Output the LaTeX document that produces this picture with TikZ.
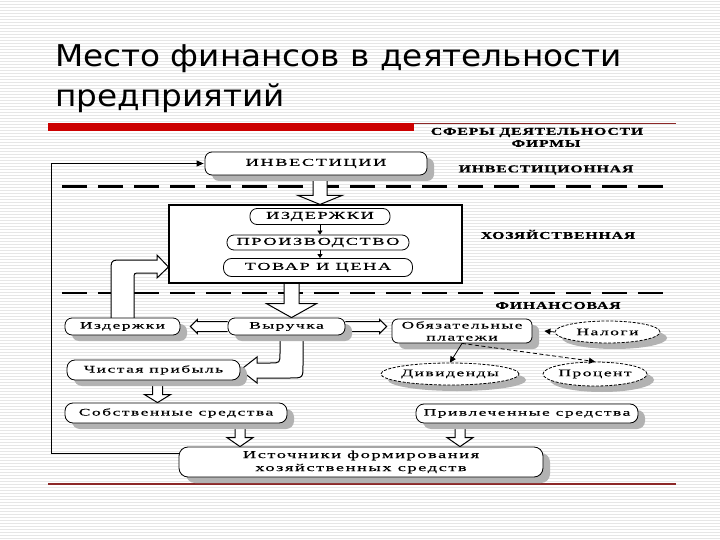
\documentclass[tikz,border=0pt]{standalone}
\usepackage{fontspec}
\setmainfont{Liberation Serif}
\newfontfamily\titlefont[FakeStretch=1.09]{DejaVu Sans}
\newfontfamily\bxfont[FakeStretch=1.75,LetterSpace=15,FakeBold=0.3]{Liberation Serif}
\newfontfamily\hdfont[FakeStretch=1.5,LetterSpace=8,FakeBold=0.8]{Liberation Serif}
\usetikzlibrary{shadows,calc,arrows.meta,shapes.geometric}
\pgfdeclarelayer{stripes}
\pgfdeclarelayer{arrowlayer}
\pgfsetlayers{stripes,arrowlayer,main}
\definecolor{barred}{RGB}{204,0,0}
\definecolor{linered}{RGB}{140,40,40}
\definecolor{shadowgray}{RGB}{178,178,178}
\definecolor{stripegray}{RGB}{230,230,230}
\newcommand\fatV[5]{\path[fatarrow] let \p1=#1, \p2=#2 in
  (\x1-#3,\y1) -- (\x1-#3,\y2+#5) -- (\x1-#4,\y2+#5) -- (\x1,\y2) --
  (\x1+#4,\y2+#5) -- (\x1+#3,\y2+#5) -- (\x1+#3,\y1);}
\newcommand\fatH[5]{\path[fatarrow] let \p1=#1, \p2=#2, \n1={sign(\x1-\x2)} in
  (\x1,\y1+#3) -- ({\x2+(\n1)*(#5)},\y1+#3) -- ({\x2+(\n1)*(#5)},\y1+#4) -- (\x2,\y1) --
  ({\x2+(\n1)*(#5)},\y1-#4) -- ({\x2+(\n1)*(#5)},\y1-#3) -- (\x1,\y1-#3);}
\begin{document}
\begin{tikzpicture}[x=1pt,y=-1pt,
  fatarrow/.style={fill=white, draw=black, line width=1pt, line join=miter},
  shad/.style={drop shadow={shadow xshift=7pt, shadow yshift=-6pt, fill=shadowgray, opacity=1}},
  rbox/.style={draw, line width=0.8pt, fill=white, rounded corners=7pt, inner sep=0pt, align=center,
    font=\bxfont\fontsize{10}{12}\selectfont},
  capbox/.style={rbox, font=\bxfont\fontsize{10.5}{12}\selectfont},
  ebox/.style={ellipse, draw, line width=0.8pt, dash pattern=on 3pt off 1.5pt, fill=white, inner sep=0pt,
    font=\bxfont\fontsize{10}{12}\selectfont, shad},
  hd/.style={font=\hdfont\bfseries\fontsize{10.5}{11}\selectfont, inner sep=0pt},
  sep/.style={line width=3pt, dash pattern=on 25pt off 11pt},
  thinarrow/.style={line width=0.8pt, -{Triangle[width=6pt,length=6pt]}}
]
\useasboundingbox (0,0) rectangle (720,540);
\begin{pgfonlayer}{stripes}
  \fill[white] (0,0) rectangle (720,540);
  \foreach \i in {0,...,179} \draw[stripegray, line width=1pt] (0,{3*\i+1.5}) -- (720,{3*\i+1.5});
\end{pgfonlayer}

% title
\node[anchor=base west, inner sep=0pt, font=\titlefont\fontsize{30}{36}\selectfont] (t1) at (55,67) {Место финансов в деятельности};
\node[anchor=base west, inner sep=0pt, font=\titlefont\fontsize{30}{36}\selectfont] (t2) at (55,107) {предприятий};
\fill[barred] (48,123) rectangle (414,131);
\draw[linered, line width=1pt] (414,123.5) -- (676,123.5);
\draw[linered, line width=1.2pt] (48,484) -- (676,484);

% headings
\node[hd] (h1) at (537,132.5) {СФЕРЫ ДЕЯТЕЛЬНОСТИ};
\node[hd] (h2) at (546,143.5) {ФИРМЫ};
\node[hd] (h3) at (546,170) {ИНВЕСТИЦИОННАЯ};
\node[hd] (h4) at (558,234.5) {ХОЗЯЙСТВЕННАЯ};
\node[hd] (h5) at (558,305.5) {ФИНАНСОВАЯ};

% nodes
\node[capbox, shad, minimum width=222pt, minimum height=23pt] (inv) at (316,163.5) {ИНВЕСТИЦИИ};
\node[draw, line width=1.1pt, fill=white, minimum width=293pt, minimum height=78pt] (big) at (315.5,244) {};
\node[capbox, minimum width=140pt, minimum height=16pt] (izd) at (320,216.5) {ИЗДЕРЖКИ};
\node[capbox, minimum width=182pt, minimum height=15pt] (proizv) at (318,242.5) {ПРОИЗВОДСТВО};
\node[capbox, rounded corners=8pt, minimum width=189pt, minimum height=18pt] (tovar) at (318,267.5) {ТОВАР И ЦЕНА};

\node[rbox, shad, minimum width=115pt, minimum height=17pt] (izd2) at (122.5,326.5) {Издержки};
\node[rbox, shad, minimum width=117pt, minimum height=17pt] (vyr) at (286.5,326.5) {Выручка};
\node[rbox, shad, rounded corners=6pt, minimum width=140pt, minimum height=24pt] (obyaz) at (462,331) {Обязательные\\платежи};
\node[ebox, minimum width=105pt, minimum height=22pt] (nalogi) at (607.5,332) {Налоги};
\node[rbox, shad, rounded corners=8pt, minimum width=173pt, minimum height=20pt] (chist) at (153.5,370) {Чистая прибыль};
\node[ebox, minimum width=116pt, minimum height=22pt] (divid) at (450,374) {Дивиденды};
\node[ebox, minimum width=104pt, minimum height=24pt] (proc) at (595,374) {Процент};
\node[rbox, shad, rounded corners=8pt, minimum width=222pt, minimum height=20pt] (sobstv) at (176,413) {Собственные средства};
\node[rbox, shad, rounded corners=8pt, minimum width=222pt, minimum height=19pt] (privl) at (527,413.5) {Привлеченные средства};
\node[rbox, shad, rounded corners=9pt, minimum width=364pt, minimum height=30pt,
  font=\bxfont\fontsize{10.5}{13}\selectfont] (ist) at (361,462) {Источники формирования\\хозяйственных средств};

% thin connectors
\draw[line width=0.8pt, -{Triangle[width=5pt,length=4pt]}] (izd.south) -- (izd.south |- proizv.north);
\draw[line width=0.8pt, -{Triangle[width=5pt,length=4pt]}] (izd.south |- proizv.south) -- (izd.south |- tovar.north);
\draw[thinarrow] (nalogi.west) -- ([xshift=12pt]obyaz.east);
\draw[thinarrow] (obyaz.south) -- (divid.north);
\draw[thinarrow, dash pattern=on 4pt off 2.5pt] (obyaz.south) -- (proc.north);
\draw[line width=0.9pt, -{Triangle[width=6pt,length=7pt]}] ([yshift=9pt]ist.west) -- ++(-127,0) |- ([xshift=-1pt]inv.west);

% separators and fat arrows
\begin{pgfonlayer}{arrowlayer}
  \draw[sep] (62,187) -- (670,187);
  \draw[sep, line width=2pt] (62,293) -- (670,293);
  \fatV{([xshift=4pt]inv.south)}{(big.north)}{7pt}{22pt}{9pt}
  \fatV{([xshift=-24pt]big.south)}{(vyr.north)}{7.5pt}{25pt}{14pt}
  \fatV{([xshift=4pt]chist.south)}{(sobstv.north)}{5pt}{13pt}{8pt}
  \fatV{([xshift=64pt]sobstv.south)}{(ist.north)}{5pt}{13pt}{9pt}
  \fatV{([xshift=-67pt]privl.south)}{(ist.north)}{5pt}{13pt}{9pt}
  \fatH{(vyr.west)}{([xshift=10pt]izd2.east)}{5pt}{7pt}{7pt}
  \fatH{(vyr.east)}{([xshift=-5pt]obyaz.west)}{5pt}{7pt}{7pt}
  % bent arrow Выручка -> Чистая прибыль
  \path[fatarrow] (280,340) -- (280,353) .. controls (280,363) .. (270,363) -- (257,363) -- (257,357)
    -- (chist.east) -- (257,383) -- (257,378) -- (290,378) .. controls (303,378) .. (303,365) -- (303,340) -- cycle;
  % curved arrow Издержки -> big box
  \path[fatarrow] (111,318) -- (111,272) .. controls (111,260) .. (123,260) -- (157,260) -- (157,255)
    -- (big.west |- 0,267) -- (157,278) -- (157,273) -- (140,273) .. controls (134,273) .. (134,279) -- (134,318);
\end{pgfonlayer}
\end{tikzpicture}
\end{document}
